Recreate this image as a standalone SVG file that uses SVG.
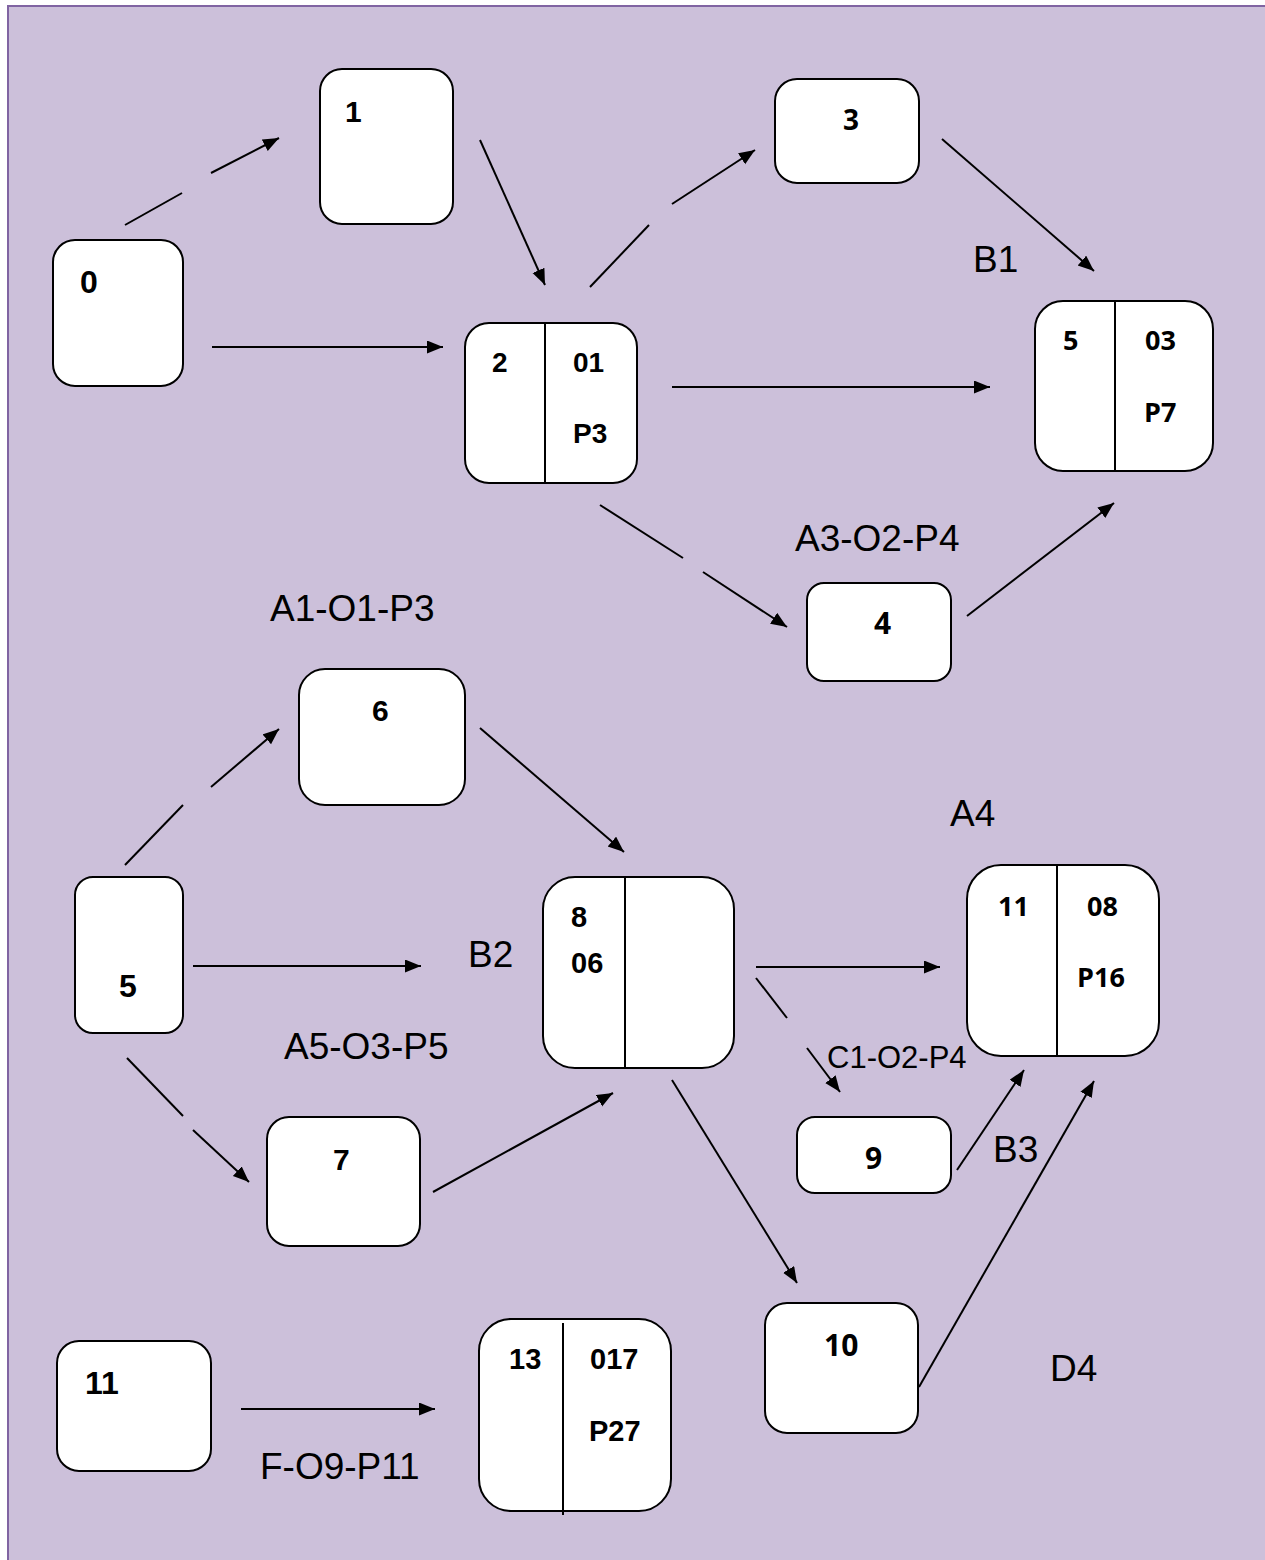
<svg xmlns="http://www.w3.org/2000/svg" width="1265" height="1560" viewBox="0 0 1265 1560">
<defs>
<marker id="ah" markerUnits="userSpaceOnUse" markerWidth="17" markerHeight="14" refX="16" refY="6.5" orient="auto">
<path d="M0,0 L16,6.5 L0,13 z" fill="#000"/>
</marker>
<style>
.box{fill:#fff;stroke:#000;stroke-width:2}
.div{stroke:#000;stroke-width:2}
.c{font-family:"Liberation Sans",Arial,sans-serif;font-weight:bold;fill:#000}
.v{font-family:"Open Sans","Noto Sans",sans-serif;font-weight:bold;fill:#000}
.lbl{font-family:"Liberation Sans",Arial,sans-serif;font-size:37px;fill:#000}
.e{stroke:#000;stroke-width:2;fill:none}
.ea{stroke:#000;stroke-width:2;fill:none;marker-end:url(#ah)}
</style>
</defs>
<rect x="0" y="0" width="1265" height="1560" fill="#fff"/>
<rect x="8" y="6" width="1280" height="1580" fill="#CCC0DA" stroke="#8064A2" stroke-width="2"/>

<g id="connectors">
<line class="e" x1="125" y1="225" x2="182" y2="193"/>
<line class="ea" x1="211" y1="173" x2="279" y2="138"/>
<line class="ea" x1="212" y1="347" x2="443" y2="347"/>
<line class="ea" x1="480" y1="140" x2="545" y2="285"/>
<line class="e" x1="590" y1="287" x2="649" y2="225"/>
<line class="ea" x1="672" y1="204" x2="755" y2="150"/>
<line class="ea" x1="942" y1="139" x2="1094" y2="271"/>
<line class="ea" x1="672" y1="387" x2="990" y2="387"/>
<line class="e" x1="600" y1="505" x2="683" y2="558"/>
<line class="ea" x1="703" y1="572" x2="787" y2="627"/>
<line class="ea" x1="967" y1="616" x2="1114" y2="503"/>
<line class="e" x1="125" y1="865" x2="183" y2="805"/>
<line class="ea" x1="211" y1="787" x2="279" y2="729"/>
<line class="ea" x1="480" y1="728" x2="624" y2="852"/>
<line class="ea" x1="193" y1="966" x2="421" y2="966"/>
<line class="e" x1="127" y1="1058" x2="183" y2="1116"/>
<line class="ea" x1="193" y1="1130" x2="249" y2="1182"/>
<line class="ea" x1="433" y1="1192" x2="613" y2="1093"/>
<line class="ea" x1="672" y1="1080" x2="797" y2="1283"/>
<line class="ea" x1="756" y1="967" x2="940" y2="967"/>
<line class="e" x1="756" y1="978" x2="787" y2="1018"/>
<line class="ea" x1="807" y1="1048" x2="840" y2="1092"/>
<line class="ea" x1="957" y1="1170" x2="1024" y2="1070"/>
<line class="ea" x1="919" y1="1387" x2="1094" y2="1081"/>
<line class="ea" x1="241" y1="1409" x2="435" y2="1409"/>
</g>

<g id="node-0">
<rect class="box" x="53" y="240" width="130" height="146" rx="22"/>
<text class="c" x="80" y="293" font-size="32">0</text>
</g>
<g id="node-1">
<rect class="box" x="320" y="69" width="133" height="155" rx="22"/>
<text class="c" x="345" y="122" font-size="30">1</text>
</g>
<g id="node-2">
<rect class="box" x="465" y="323" width="172" height="160" rx="24"/>
<line class="div" x1="545" y1="323" x2="545" y2="483"/>
<text class="c" x="492" y="372" font-size="28">2</text>
<text class="c" x="573" y="372" font-size="28">01</text>
<text class="c" x="573" y="443" font-size="28">P3</text>
</g>
<g id="node-3">
<rect class="box" x="775" y="79" width="144" height="104" rx="22"/>
<text class="v" x="843" y="130" font-size="28">3</text>
</g>
<g id="node-5a">
<rect class="box" x="1035" y="301" width="178" height="170" rx="28"/>
<line class="div" x1="1115" y1="301" x2="1115" y2="471"/>
<text class="v" x="1063" y="350" font-size="27">5</text>
<text class="v" x="1145" y="350" font-size="27">03</text>
<text class="v" x="1144" y="422" font-size="27">P7</text>
</g>
<g id="node-4">
<rect class="box" x="807" y="583" width="144" height="98" rx="17"/>
<text class="v" x="874" y="634" font-size="30">4</text>
</g>
<g id="node-6">
<rect class="box" x="299" y="669" width="166" height="136" rx="26"/>
<text class="c" x="372" y="721" font-size="30">6</text>
</g>
<g id="node-5b">
<rect class="box" x="75" y="877" width="108" height="156" rx="18"/>
<text class="c" x="119" y="997" font-size="32">5</text>
</g>
<g id="node-8">
<rect class="box" x="543" y="877" width="191" height="191" rx="32"/>
<line class="div" x1="625" y1="877" x2="625" y2="1068"/>
<text class="c" x="571" y="927" font-size="29">8</text>
<text class="c" x="571" y="973" font-size="29">06</text>
</g>
<g id="node-7">
<rect class="box" x="267" y="1117" width="153" height="129" rx="22"/>
<text class="c" x="333" y="1170" font-size="30">7</text>
</g>
<g id="node-11a">
<rect class="box" x="967" y="865" width="192" height="191" rx="34"/>
<line class="div" x1="1057" y1="865" x2="1057" y2="1056"/>
<text class="v" x="998" y="916" font-size="27">11</text>
<text class="v" x="1087" y="916" font-size="27">08</text>
<text class="v" x="1077" y="987" font-size="27">P16</text>
</g>
<g id="node-9">
<rect class="box" x="797" y="1117" width="154" height="76" rx="18"/>
<text class="v" x="865" y="1169" font-size="30">9</text>
</g>
<g id="node-10">
<rect class="box" x="765" y="1303" width="153" height="130" rx="22"/>
<text class="v" x="824" y="1356" font-size="30">10</text>
</g>
<g id="node-11b">
<rect class="box" x="57" y="1341" width="154" height="130" rx="22"/>
<text class="c" x="85" y="1394" font-size="32">11</text>
</g>
<g id="node-13">
<rect class="box" x="479" y="1319" width="192" height="192" rx="32"/>
<line class="div" x1="563" y1="1323" x2="563" y2="1515"/>
<text class="c" x="509" y="1369" font-size="29">13</text>
<text class="c" x="590" y="1369" font-size="29">017</text>
<text class="c" x="589" y="1441" font-size="29">P27</text>
</g>

<g id="labels">
<text class="lbl" x="973" y="272">B1</text>
<text class="lbl" x="795" y="551">A3-O2-P4</text>
<text class="lbl" x="270" y="621">A1-O1-P3</text>
<text class="lbl" x="950" y="826">A4</text>
<text class="lbl" x="468" y="967">B2</text>
<text class="lbl" x="284" y="1059">A5-O3-P5</text>
<text class="lbl" x="827" y="1068" style="font-size:31px">C1-O2-P4</text>
<text class="lbl" x="993" y="1162">B3</text>
<text class="lbl" x="1050" y="1381">D4</text>
<text class="lbl" x="260" y="1479">F-O9-P11</text>
</g>
</svg>
